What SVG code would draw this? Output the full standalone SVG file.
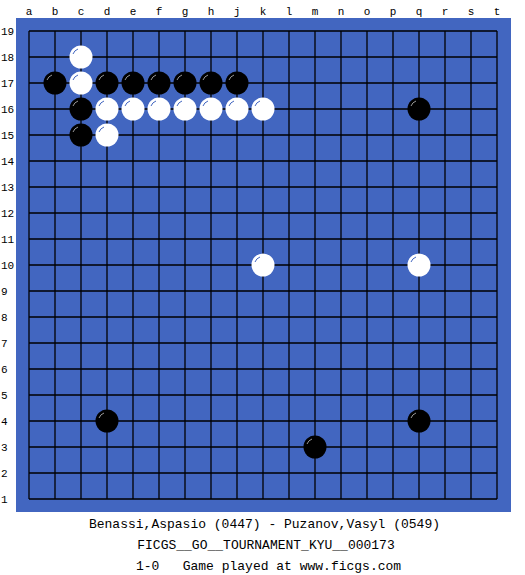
<svg xmlns="http://www.w3.org/2000/svg" width="525" height="575" viewBox="0 0 525 575">
<defs>
<style>
.lbl{font-family:"Liberation Mono","DejaVu Sans Mono",monospace;font-size:11px;fill:#000}
.cap{font-family:"Liberation Mono","DejaVu Sans Mono",monospace;font-size:13px;fill:#000;text-anchor:middle;white-space:pre}
.grid line{stroke:#000;stroke-width:1.3}
.b{fill:#000}
.w{fill:#fff}
.hb{fill:none;stroke:#999;stroke-width:1}
.hw{fill:none;stroke:#4266c0;stroke-width:1}
</style>
<g id="blk"><circle r="11.5" class="b"/><path d="M-8,-3 A8.5,8.5 0 0 1 -3,-8" class="hb"/></g>
<g id="wht"><circle r="11.5" class="w"/><path d="M-8,-3 A8.5,8.5 0 0 1 -3,-8" class="hw"/></g>
</defs>
<rect width="525" height="575" fill="#fff"/>
<rect id="board" x="16" y="18" width="495" height="494" fill="#4266c0"/>
<g class="grid" id="grid">
<line x1="29" y1="31" x2="29" y2="499"/><line x1="55" y1="31" x2="55" y2="499"/><line x1="81" y1="31" x2="81" y2="499"/><line x1="107" y1="31" x2="107" y2="499"/><line x1="133" y1="31" x2="133" y2="499"/><line x1="159" y1="31" x2="159" y2="499"/><line x1="185" y1="31" x2="185" y2="499"/><line x1="211" y1="31" x2="211" y2="499"/><line x1="237" y1="31" x2="237" y2="499"/><line x1="263" y1="31" x2="263" y2="499"/><line x1="289" y1="31" x2="289" y2="499"/><line x1="315" y1="31" x2="315" y2="499"/><line x1="341" y1="31" x2="341" y2="499"/><line x1="367" y1="31" x2="367" y2="499"/><line x1="393" y1="31" x2="393" y2="499"/><line x1="419" y1="31" x2="419" y2="499"/><line x1="445" y1="31" x2="445" y2="499"/><line x1="471" y1="31" x2="471" y2="499"/><line x1="497" y1="31" x2="497" y2="499"/>
<line x1="29" y1="31" x2="497" y2="31"/><line x1="29" y1="57" x2="497" y2="57"/><line x1="29" y1="83" x2="497" y2="83"/><line x1="29" y1="109" x2="497" y2="109"/><line x1="29" y1="135" x2="497" y2="135"/><line x1="29" y1="161" x2="497" y2="161"/><line x1="29" y1="187" x2="497" y2="187"/><line x1="29" y1="213" x2="497" y2="213"/><line x1="29" y1="239" x2="497" y2="239"/><line x1="29" y1="265" x2="497" y2="265"/><line x1="29" y1="291" x2="497" y2="291"/><line x1="29" y1="317" x2="497" y2="317"/><line x1="29" y1="343" x2="497" y2="343"/><line x1="29" y1="369" x2="497" y2="369"/><line x1="29" y1="395" x2="497" y2="395"/><line x1="29" y1="421" x2="497" y2="421"/><line x1="29" y1="447" x2="497" y2="447"/><line x1="29" y1="473" x2="497" y2="473"/><line x1="29" y1="499" x2="497" y2="499"/>
</g>
<g id="cols" class="lbl" text-anchor="middle">
<text x="29" y="15">a</text><text x="55" y="15">b</text><text x="81" y="15">c</text><text x="107" y="15">d</text><text x="133" y="15">e</text><text x="159" y="15">f</text><text x="185" y="15">g</text><text x="211" y="15">h</text><text x="237" y="15">j</text><text x="263" y="15">k</text><text x="289" y="15">l</text><text x="315" y="15">m</text><text x="341" y="15">n</text><text x="367" y="15">o</text><text x="393" y="15">p</text><text x="419" y="15">q</text><text x="445" y="15">r</text><text x="471" y="15">s</text><text x="497" y="15">t</text>
</g>
<g id="rows" class="lbl">
<text x="1" y="35">19</text><text x="1" y="61">18</text><text x="1" y="87">17</text><text x="1" y="113">16</text><text x="1" y="139">15</text><text x="1" y="165">14</text><text x="1" y="191">13</text><text x="1" y="217">12</text><text x="1" y="243">11</text><text x="1" y="269">10</text><text x="1" y="295">9</text><text x="1" y="321">8</text><text x="1" y="347">7</text><text x="1" y="373">6</text><text x="1" y="399">5</text><text x="1" y="425">4</text><text x="1" y="451">3</text><text x="1" y="477">2</text><text x="1" y="503">1</text>
</g>
<g id="stones">
<use href="#wht" x="81" y="57"/>
<use href="#blk" x="55" y="83"/><use href="#wht" x="81" y="83"/><use href="#blk" x="107" y="83"/><use href="#blk" x="133" y="83"/><use href="#blk" x="159" y="83"/><use href="#blk" x="185" y="83"/><use href="#blk" x="211" y="83"/><use href="#blk" x="237" y="83"/>
<use href="#blk" x="81" y="109"/><use href="#wht" x="107" y="109"/><use href="#wht" x="133" y="109"/><use href="#wht" x="159" y="109"/><use href="#wht" x="185" y="109"/><use href="#wht" x="211" y="109"/><use href="#wht" x="237" y="109"/><use href="#wht" x="263" y="109"/><use href="#blk" x="419" y="109"/>
<use href="#blk" x="81" y="135"/><use href="#wht" x="107" y="135"/>
<use href="#wht" x="263" y="265"/><use href="#wht" x="419" y="265"/>
<use href="#blk" x="107" y="421"/><use href="#blk" x="419" y="421"/>
<use href="#blk" x="315" y="447"/>
</g>
<g id="caption">
<text class="cap" x="264.5" y="528">Benassi,Aspasio (0447) - Puzanov,Vasyl (0549)</text>
<text class="cap" x="266" y="549">FICGS__GO__TOURNAMENT_KYU__000173</text>
<text class="cap" x="268.5" y="570">1-0   Game played at www.ficgs.com</text>
</g>
</svg>
